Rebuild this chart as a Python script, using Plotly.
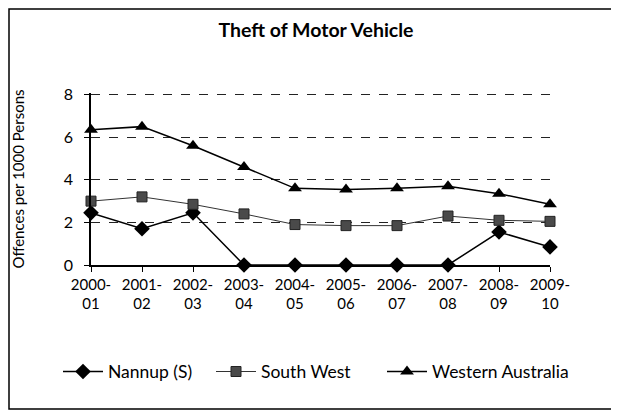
import plotly.graph_objects as go

years = ['2000-<br>01', '2001-<br>02', '2002-<br>03', '2003-<br>04', '2004-<br>05',
         '2005-<br>06', '2006-<br>07', '2007-<br>08', '2008-<br>09', '2009-<br>10']
nannup = [2.45, 1.7, 2.45, 0, 0, 0, 0, 0, 1.55, 0.85]
south_west = [3.0, 3.2, 2.85, 2.4, 1.9, 1.85, 1.85, 2.3, 2.1, 2.05]
western_australia = [6.35, 6.5, 5.6, 4.6, 3.6, 3.55, 3.6, 3.7, 3.35, 2.85]

FONT = 'Lato, Open Sans, sans-serif'
xs = list(range(len(years)))

# page has an 8px body margin, so the figure is a bit smaller than the window
W, H = 611, 403
L, R, T, B = 83, 69, 85, 146
pw, ph = W - L - R, H - T - B

fig = go.Figure()
fig.add_trace(go.Scatter(x=xs, y=nannup, name='Nannup (S)', mode='lines+markers',
                         line=dict(color='black', width=1.5),
                         marker=dict(symbol='diamond', size=12, color='black'),
                         cliponaxis=False, legend='legend'))
fig.add_trace(go.Scatter(x=xs, y=south_west, name='South West', mode='lines+markers',
                         line=dict(color='#333333', width=1),
                         marker=dict(symbol='square', size=10, color='#4a4a4a',
                                     line=dict(color='#222222', width=1)),
                         cliponaxis=False, legend='legend2'))
fig.add_trace(go.Scatter(x=xs, y=western_australia, name='Western Australia', mode='lines+markers',
                         line=dict(color='black', width=1.5),
                         marker=dict(symbol='triangle-up', size=12, color='black'),
                         cliponaxis=False, legend='legend3'))


def leg(px):
    return dict(orientation='h', x=(px - L) / pw, xanchor='left', y=-0.62, yanchor='middle',
                font=dict(size=17.5), itemwidth=40, bgcolor='rgba(0,0,0,0)')


fig.update_layout(
    width=W, height=H,
    margin=dict(l=L, r=R, t=T, b=B, autoexpand=False),
    paper_bgcolor='white', plot_bgcolor='white',
    font=dict(family=FONT, size=15, color='black'),
    title=dict(text='<b>Theft of Motor Vehicle</b>', x=308 / W, xanchor='center',
               y=1 - 22 / H, yanchor='middle', font=dict(size=19.5, family=FONT)),
    showlegend=True,
    legend=leg(50), legend2=leg(203), legend3=leg(374),
    xaxis=dict(range=[0, 9], tickvals=xs, ticktext=years, showgrid=False,
               showline=True, linecolor='black', linewidth=1.5, automargin=False,
               ticks='outside', ticklen=5, tickcolor='black', zeroline=False,
               tickfont=dict(size=15)),
    yaxis=dict(range=[0, 8.08], tickvals=[0, 2, 4, 6, 8], showgrid=True,
               gridcolor='#222222', griddash='dash', automargin=False,
               gridwidth=1, showline=True, linecolor='black', linewidth=1.5,
               ticks='outside', ticklen=5, tickcolor='black', zeroline=False,
               ticklabelstandoff=8, tickfont=dict(size=16),
               title=dict(text='Offences per 1000 Persons', font=dict(size=15), standoff=36)),
    shapes=[dict(type='rect', xref='paper', yref='paper',
                 x0=(1 - L) / pw, x1=(609 - L) / pw,
                 y0=-(B - 2) / ph, y1=1 + (T - 1) / ph,
                 line=dict(color='black', width=1.5), layer='below')],
)

fig.write_html('out.html')
